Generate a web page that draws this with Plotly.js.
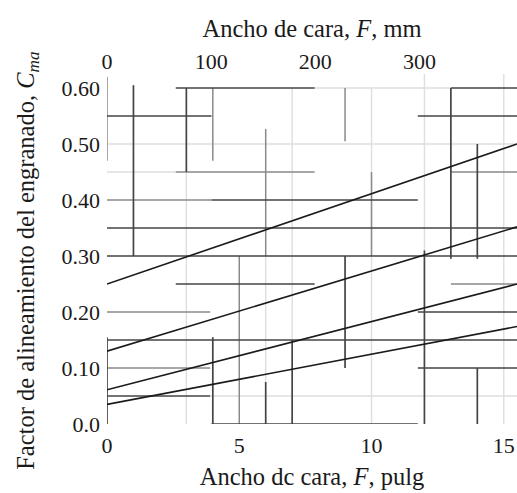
<!DOCTYPE html>
<html>
<head>
<meta charset="utf-8">
<script src="https://cdn.plot.ly/plotly-3.0.1.min.js"></script>
<style>html,body{margin:0;padding:0;background:#fff;}#chart{width:517px;height:493px;}</style>
</head>
<body>
<div id="chart"></div>
<script>
// Face width (in) sample points and Cma values for the four curves
const faceWidthIn = [0, 5, 10, 15.5];
const curve1 = [0.25, 0.331, 0.411, 0.50];
const curve2 = [0.13, 0.202, 0.273, 0.352];
const curve3 = [0.061, 0.122, 0.183, 0.250];
const curve4 = [0.035, 0.080, 0.125, 0.174];

// Tick labels
const yTickVals = [0, 0.1, 0.2, 0.3, 0.4, 0.5, 0.6];
const yTickText = ["0.0", "0.10", "0.20", "0.30", "0.40", "0.50", "0.60"];
const xTickVals = [0, 5, 10, 15];
const mmTickVals = [0, 100, 200, 300];

// Chart-paper grid fragments: [position, from, to]
const vDark = [[0,0,0.155],[1,0.30,0.605],[3,0.45,0.60],[4,0,0.155],[6,0,0.075],[7,0,0.15],
               [9,0.10,0.30],[12,0,0.31],[13,0.295,0.60],[14,0.295,0.50],[14,0,0.10]];
const vMid = [[0,0.47,0.62],[4,0.47,0.60],[5,0,0.30],[6,0.30,0.527],[9,0.505,0.60],[10,0.30,0.45]];
const vLight = [[3,0,0.45],[6,0.075,0.30],[7,0.15,0.60],[10,0,0.60],[12,0.31,0.625],[15,0,0.625]];
const hDark = [[0.60,2.6,7.85],[0.60,13,15.5],[0.55,0,3.95],[0.55,11.75,15.5],[0.40,3.95,11.75],
               [0.35,0,15.5],[0.30,0,15.5],[0.25,2.6,7.85],[0.20,11.75,15.5],[0.15,0,15.5],
               [0.10,11.75,15.5],[0.05,0,3.9],[0,3.95,11.75]];
const hMid = [[0.45,2.6,7.85],[0.45,13,15.5],[0.40,0,3.95],[0.25,13,15.5],[0.20,0,3.9],[0.10,0,3.9]];
const hLight = [[0.50,0,15.5],[0.45,0,2.6],[0.05,3.9,15.5],[0.60,7.85,13]];

function segTrace(v, h, color, width) {
  const xs = [], ys = [];
  v.forEach(s => { xs.push(s[0], s[0], null); ys.push(s[1], s[2], null); });
  h.forEach(s => { xs.push(s[1], s[2], null); ys.push(s[0], s[0], null); });
  return {x: xs, y: ys, mode: 'lines', line: {color: color, width: width},
          hoverinfo: 'skip', showlegend: false, connectgaps: false};
}

const curveStyle = {color: '#1a1a1a', width: 1.6};
const traces = [
  segTrace(vLight, hLight, '#dedede', 1.4),
  segTrace(vMid, hMid, '#8a8a8a', 1.5),
  segTrace(vDark, hDark, '#444444', 1.7),
  {x: faceWidthIn, y: curve1, mode: 'lines', line: curveStyle, showlegend: false},
  {x: faceWidthIn, y: curve2, mode: 'lines', line: curveStyle, showlegend: false},
  {x: faceWidthIn, y: curve3, mode: 'lines', line: curveStyle, showlegend: false},
  {x: faceWidthIn, y: curve4, mode: 'lines', line: curveStyle, showlegend: false},
  {x: mmTickVals, y: [null, null, null, null], xaxis: 'x2', mode: 'lines', showlegend: false, hoverinfo: 'skip'}
];

const fam = '"Liberation Serif", "DejaVu Serif", serif';
const fnt = {family: fam, size: 22, color: '#1a1a1a'};
const tfnt = {family: fam, size: 24.5, color: '#1a1a1a'};
const layout = {
  width: 517, height: 493,
  margin: {l: 107, r: 0, t: 74, b: 69, pad: 0},
  paper_bgcolor: '#fff', plot_bgcolor: '#fff',
  font: fnt,
  showlegend: false,
  xaxis: {range: [0, 15.5], tickvals: xTickVals, showgrid: false, zeroline: false,
          showline: false, ticks: '', tickfont: fnt, ticklabelstandoff: 6,
          title: {text: 'Ancho dc cara, <i>F</i>, pulg', font: tfnt, standoff: 10}},
  xaxis2: {range: [0, 15.5 * 25.4], overlaying: 'x', side: 'top', anchor: 'y',
           tickvals: mmTickVals, showgrid: false, zeroline: false, showline: false, ticks: '',
           tickfont: fnt, ticklabelstandoff: 0,
           title: {text: 'Ancho de cara, <i>F</i>, mm', font: tfnt, standoff: 4}},
  yaxis: {range: [0, 0.625], tickvals: yTickVals, ticktext: yTickText, showgrid: false,
          zeroline: false, showline: false, ticks: '', tickfont: fnt, ticklabelstandoff: 6},
  annotations: [{
    text: 'Factor de alineamiento del engranado, <i>C<sub>ma</sub></i>',
    xref: 'paper', yref: 'paper', x: -0.193, y: 0.466, xanchor: 'center', yanchor: 'middle',
    textangle: -90, showarrow: false, font: tfnt
  }]
};
Plotly.newPlot('chart', traces, layout, {staticPlot: true, displayModeBar: false});
</script>
</body>
</html>
